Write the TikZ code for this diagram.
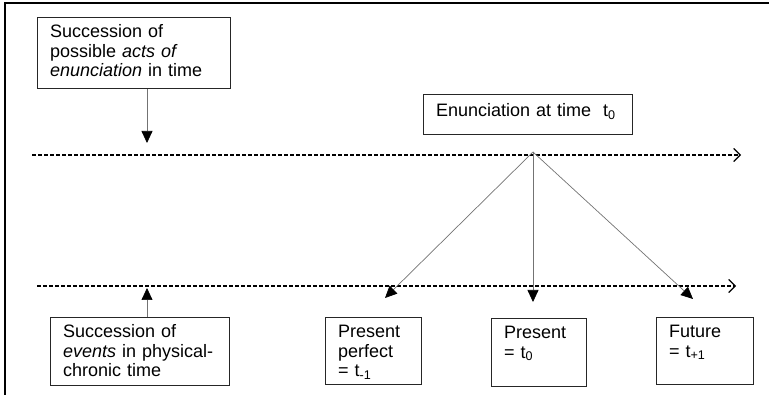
\documentclass[tikz,border=0pt]{standalone}
\usepackage{fontspec}
\setmainfont{Liberation Sans}
\usetikzlibrary{arrows.meta}

\begin{document}
\begin{tikzpicture}[x=1pt,y=-1pt]
	\tikzstyle{every node}+=[font=\fontsize{18}{19.5}\selectfont]
	\tikzstyle{box}=[draw=black!85,line width=1.1pt,anchor=north west,align=left,inner xsep=12.5pt,inner ysep=7pt,text height=13pt]
	\tikzstyle{timeline}=[line width=1.2pt,dash pattern=on 4pt off 2pt,-{Straight Barb[length=6.5pt,width=13pt,line width=1.2pt]}]
	\tikzstyle{pointer}=[draw=black!55,line width=0.7pt,-{Triangle[length=12pt,width=11pt,color=black]}]
	\useasboundingbox (0,0) rectangle (769,395);
	\draw [line width=1.6pt] (5,395) -- (5,3) -- (769,3);
	% boxes
	\node [box,text width=168pt,text depth=44pt] (acts) at (37,17) {Succession of\\possible \textit{acts of}\\\textit{enunciation} in time};
	\node [box,text width=184pt,text height=15pt,text depth=11pt] (enun) at (423,94) {Enunciation at time\ \ t\textsubscript{0}};
	\node [box,text width=154pt,text depth=41pt] (events) at (50,317) {Succession of\\\textit{events} in physical-\\chronic time};
	\node [box,text width=71pt,text depth=40pt] (perfect) at (325,317) {Present\\perfect\\= t\textsubscript{-1}};
	\node [box,text width=70pt,text depth=41pt] (present) at (491,318) {Present\\= t\textsubscript{0}};
	\node [box,text width=72pt,text depth=40pt] (future) at (656,317) {Future\\= t\textsubscript{+1}};
	% time lines
	\coordinate (nowL) at (32,155);
	\coordinate (nowR) at (741,155);
	\coordinate (evL) at (37,286);
	\coordinate (evR) at (736,286);
	\draw [timeline] (nowL) -- (nowR);
	\draw [timeline] (evL) -- (evR);
	% pointers
	\coordinate (actsTip) at (147,143);
	\coordinate (eventsTip) at (147,288);
	\draw [pointer] (actsTip |- acts.south) -- (actsTip);
	\draw [pointer] (eventsTip |- events.north) -- (eventsTip);
	\coordinate (apex) at (533,152);
	\coordinate (pastTip) at (385,298);
	\coordinate (presTip) at (533,302);
	\coordinate (futTip) at (693,299);
	\draw [pointer] (apex) -- (pastTip);
	\draw [pointer] (apex) -- (presTip);
	\draw [pointer] (apex) -- (futTip);
\end{tikzpicture}
\end{document}
